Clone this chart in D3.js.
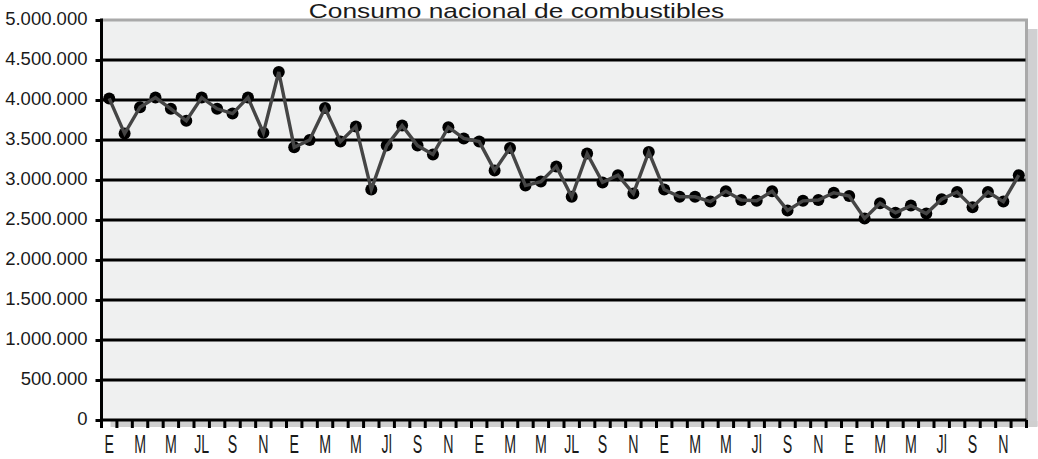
<!DOCTYPE html>
<html>
<head>
<meta charset="utf-8">
<script src="https://cdn.jsdelivr.net/npm/d3@7"></script>
<style>
  body { margin: 0; background: #fff; }
  svg { display: block; font-family: "Liberation Sans", Arial, sans-serif; }
</style>
</head>
<body>
<div id="chart"></div>
<script>
(function(){
  'use strict';

  var title = 'Consumo nacional de combustibles';

  // one label every two months, five years
  var monthLabels = [
    'E','M','M','JL','S','N',
    'E','M','M','Jl','S','N',
    'E','M','M','JL','S','N',
    'E','M','M','Jl','S','N',
    'E','M','M','Jl','S','N'
  ];

  var consumo = [
    4020000, 3580000, 3910000, 4030000, 3890000, 3740000, 4030000, 3890000, 3830000, 4030000, 3590000, 4350000,
    3410000, 3500000, 3900000, 3480000, 3670000, 2880000, 3430000, 3680000, 3430000, 3320000, 3660000, 3520000,
    3480000, 3120000, 3400000, 2930000, 2980000, 3170000, 2790000, 3330000, 2970000, 3060000, 2830000, 3350000,
    2880000, 2790000, 2790000, 2730000, 2860000, 2750000, 2740000, 2860000, 2620000, 2740000, 2750000, 2840000,
    2800000, 2520000, 2710000, 2590000, 2680000, 2580000, 2760000, 2850000, 2660000, 2850000, 2730000, 3060000
  ];

  var yTicks = [0, 500000, 1000000, 1500000, 2000000, 2500000, 3000000, 3500000, 4000000, 4500000, 5000000];

  var width = 1038, height = 459;
  var left = 101.5, right = 1026.5, top = 20, bottom = 420;

  var svg = d3.select('#chart').append('svg')
    .attr('width', width).attr('height', height);

  var months = d3.range(consumo.length);

  var x = d3.scaleBand().domain(months).range([left, right]).padding(0);
  var y = d3.scaleLinear().domain([0, 5000000]).range([bottom, top]);

  var fmt = function(v){ return d3.format(',')(v).replace(/,/g, '.'); };

  // shadow of the plot box
  svg.append('rect')
    .attr('x', right + 1).attr('y', top + 9)
    .attr('width', 10).attr('height', bottom - top - 3)
    .attr('fill', '#d0d0d2');
  svg.append('rect')
    .attr('x', left + 9).attr('y', bottom + 1)
    .attr('width', right - left + 2).attr('height', 6)
    .attr('fill', '#cfcfcf');

  // plot area
  svg.append('rect')
    .attr('x', left).attr('y', top)
    .attr('width', right - left).attr('height', bottom - top)
    .attr('fill', '#eff0f0');

  // grey frame top / right
  svg.append('path')
    .attr('d', 'M' + left + ',' + top + 'H' + right + 'V' + bottom)
    .attr('fill', 'none').attr('stroke', '#a9a9a9').attr('stroke-width', 3);

  // grid lines
  svg.append('g').selectAll('line')
    .data(yTicks.filter(function(d){ return d > 0 && d < 5000000; }))
    .enter().append('line')
    .attr('x1', left).attr('x2', right - 1)
    .attr('y1', function(d){ return y(d); })
    .attr('y2', function(d){ return y(d); })
    .attr('stroke', '#000').attr('stroke-width', 3.2);

  // y axis
  var yAxis = d3.axisLeft(y).tickValues(yTicks).tickSize(6).tickPadding(8).tickFormat(fmt);
  var gy = svg.append('g').attr('transform', 'translate(' + left + ',0)').call(yAxis);
  gy.select('.domain').remove();
  gy.selectAll('.tick line').attr('stroke', '#000').attr('stroke-width', 3);
  gy.selectAll('.tick text')
    .attr('fill', '#1a1a1a')
    .style('font-size', '18.5px')
    .attr('dy', '0.22em');

  svg.append('line')
    .attr('x1', left).attr('x2', left)
    .attr('y1', top - 1.5).attr('y2', bottom + 1.5)
    .attr('stroke', '#000').attr('stroke-width', 3);

  // x axis: ticks on month boundaries, labels every two months
  var bounds = months.map(function(m){ return x(m); }).concat([x.range()[1]]);
  svg.append('g').selectAll('line')
    .data(bounds).enter().append('line')
    .attr('x1', function(d){ return d; }).attr('x2', function(d){ return d; })
    .attr('y1', bottom).attr('y2', bottom + 8)
    .attr('stroke', '#000').attr('stroke-width', 3);

  svg.append('line')
    .attr('x1', left - 1.5).attr('x2', right)
    .attr('y1', bottom).attr('y2', bottom)
    .attr('stroke', '#000').attr('stroke-width', 3);

  svg.append('g').selectAll('text')
    .data(monthLabels).enter().append('text')
    .attr('transform', function(d, i){
      return 'translate(' + (x(months[i * 2]) + x.bandwidth() / 2) + ',453) scale(0.66,1.2)';
    })
    .attr('text-anchor', 'middle')
    .attr('fill', '#1a1a1a')
    .style('font-size', '21.5px')
    .text(function(d){ return d; });

  // markers first, line drawn over them
  var cx = function(d, i){ return x(months[i]) + x.bandwidth() / 2; };

  svg.append('g').selectAll('circle')
    .data(consumo).enter().append('circle')
    .attr('cx', cx)
    .attr('cy', function(d){ return y(d); })
    .attr('r', 6)
    .attr('fill', '#000');

  var line = d3.line().x(cx).y(function(d){ return y(d); });
  svg.append('path')
    .datum(consumo)
    .attr('d', line)
    .attr('fill', 'none')
    .attr('stroke', '#454545')
    .attr('stroke-width', 3.4)
    .attr('stroke-linejoin', 'miter');

  // title, kept inside the picture
  svg.append('text')
    .attr('transform', 'translate(516.5,18.3) scale(1.33,1)')
    .attr('text-anchor', 'middle')
    .attr('fill', '#1a1a1a')
    .style('font-size', '19.8px')
    .text(title);

})();
</script>
</body>
</html>
